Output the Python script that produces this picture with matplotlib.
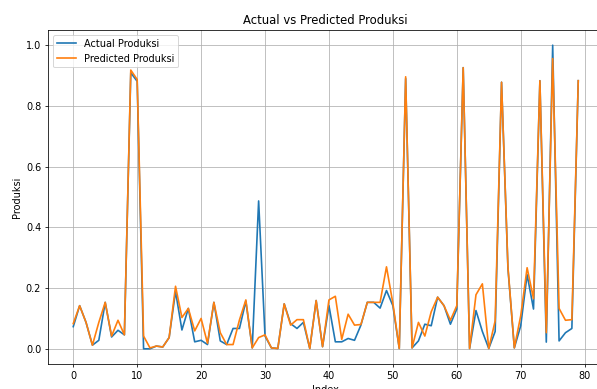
import matplotlib.pyplot as plt

index = list(range(80))

actual = [
    0.073, 0.142, 0.087, 0.012, 0.028, 0.153, 0.039, 0.061, 0.046, 0.909,
    0.881, 0.000, 0.000, 0.009, 0.006, 0.037, 0.189, 0.062, 0.133, 0.023,
    0.028, 0.014, 0.153, 0.026, 0.014, 0.067, 0.067, 0.157, 0.003, 0.487,
    0.042, 0.003, 0.001, 0.148, 0.083, 0.067, 0.087, 0.001, 0.159, 0.007,
    0.142, 0.023, 0.023, 0.034, 0.028, 0.078, 0.153, 0.153, 0.134, 0.192,
    0.142, 0.001, 0.890, 0.003, 0.026, 0.081, 0.076, 0.170, 0.142, 0.081,
    0.131, 0.926, 0.001, 0.126, 0.057, 0.001, 0.057, 0.878, 0.265, 0.003,
    0.076, 0.244, 0.131, 0.883, 0.022, 1.000, 0.026, 0.053, 0.067, 0.883,
]

predicted = [
    0.083, 0.142, 0.087, 0.012, 0.087, 0.153, 0.042, 0.094, 0.046, 0.918,
    0.887, 0.042, 0.003, 0.009, 0.006, 0.037, 0.206, 0.103, 0.133, 0.059,
    0.100, 0.018, 0.153, 0.053, 0.014, 0.014, 0.095, 0.161, 0.003, 0.037,
    0.046, 0.003, 0.001, 0.148, 0.078, 0.096, 0.096, 0.001, 0.159, 0.007,
    0.161, 0.173, 0.031, 0.114, 0.078, 0.080, 0.153, 0.153, 0.153, 0.270,
    0.150, 0.001, 0.896, 0.003, 0.087, 0.042, 0.122, 0.170, 0.142, 0.094,
    0.142, 0.926, 0.001, 0.178, 0.214, 0.001, 0.092, 0.878, 0.270, 0.003,
    0.109, 0.267, 0.165, 0.883, 0.053, 0.956, 0.133, 0.094, 0.096, 0.883,
]

dpi = 70
fig = plt.figure(figsize=(597 / dpi, 389 / dpi), dpi=dpi)
# the reference is cropped on the right, so the axes runs past the edge
ax = fig.add_axes([0.0804, 0.0643, 0.9305, 0.8586])
ax.spines['right'].set_visible(False)

ax.plot(index, actual, label='Actual Produksi', lw=1.7)
ax.plot(index, predicted, label='Predicted Produksi', lw=1.7)
ax.set_title('Actual vs Predicted Produksi')
ax.set_xlabel('Index')
ax.set_ylabel('Produksi')
ax.legend(loc='upper left')
ax.grid(True)

fig.savefig('out.png', dpi=dpi)
